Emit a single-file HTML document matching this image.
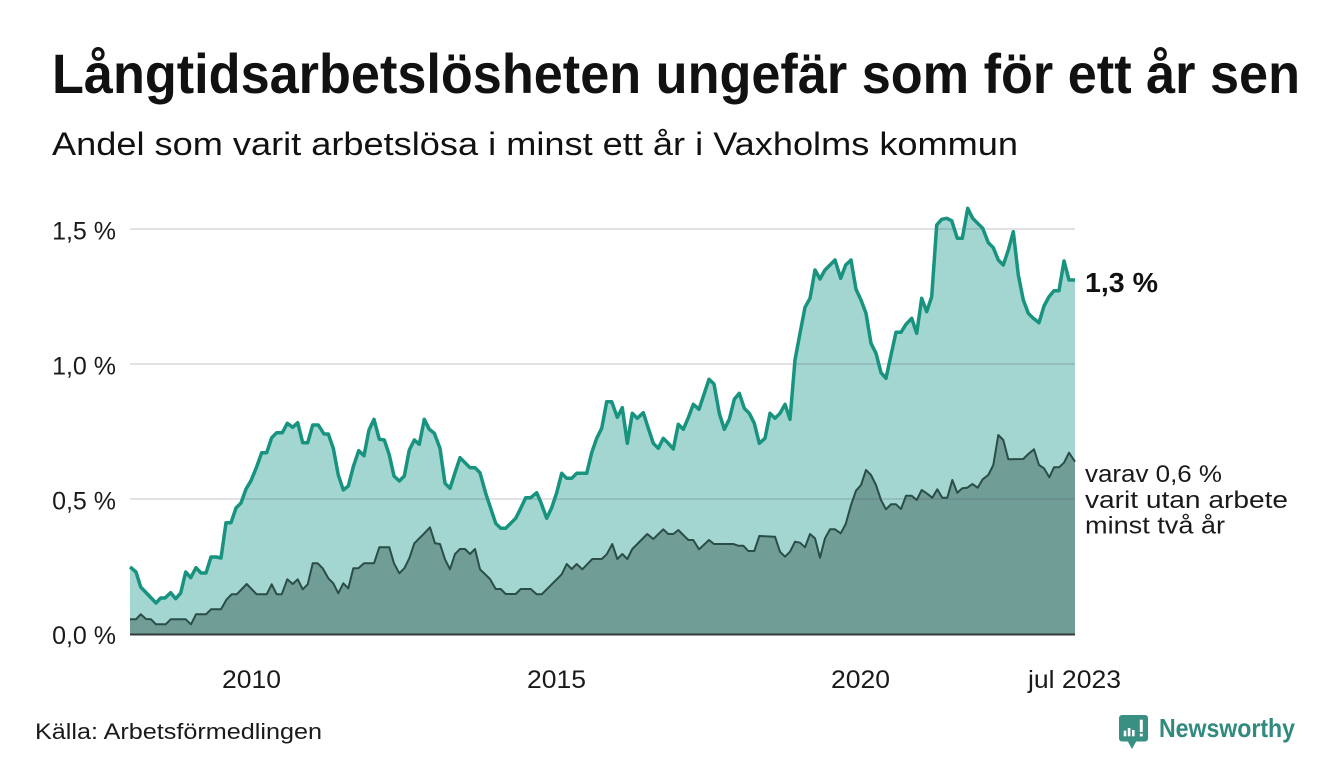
<!DOCTYPE html>
<html>
<head>
<meta charset="utf-8">
<style>
html,body{margin:0;padding:0;background:#ffffff;}
svg{display:block;}
text{font-family:"Liberation Sans",sans-serif;}
</style>
</head>
<body>
<svg width="1340" height="780" viewBox="0 0 1340 780" xmlns="http://www.w3.org/2000/svg">
<rect x="0" y="0" width="1340" height="780" fill="#ffffff"/>

<!-- Title & subtitle -->
<text x="52" y="93" font-size="56" font-weight="bold" fill="#111111" textLength="1248" lengthAdjust="spacingAndGlyphs">Långtidsarbetslösheten ungefär som för ett år sen</text>
<text x="52" y="155" font-size="32" fill="#111111" textLength="966" lengthAdjust="spacingAndGlyphs">Andel som varit arbetslösa i minst ett år i Vaxholms kommun</text>

<!-- Upper area -->
<polygon fill="#a3d6d0" points="130,634 130,567 131,567.7 136,572 140.7,587 156,603 160.7,598 165,598 170.7,592.7 175.7,598.7 180.7,593 185.7,572 190.7,577.7 196,567.7 201,573 206,573 211,557 216,557 221,558 226,522.7 231,522.7 236,508 241,503 246,489 251,480.7 256.7,466.7 261.7,452.7 266.7,452.7 271.7,437.7 276.7,432.7 282.3,432.7 287.3,423.3 292.7,427.3 297.7,422.7 302.7,442.7 307.7,442.7 312.7,425 318.3,425 324,434 328.3,434 333.3,448.3 338.3,475 343.3,490 348.3,486 353.3,466.7 358.7,450.7 364,455.7 369,430 374,419.3 379.3,439.3 384.3,440 389.3,455 394,476 399.3,481 404.3,476 409.3,450 414.3,440 419.3,444.3 424.3,419.3 429.3,429.3 434.3,433.3 440,448.3 445,483.3 450,488.3 455,472.7 460,457.7 465,462.7 470,467.7 475,467.7 480,472.7 485.7,493.3 490.7,508.3 495.7,523.3 500.7,528.3 505.7,528.3 510.7,523.3 515.7,518.3 520.7,508.3 525.7,497.7 530.7,497.7 536.7,492.7 541,502.7 546.7,518.3 551.7,507.7 556.7,492.7 561.7,473.3 566.7,478.3 571.7,478.3 576.7,473.3 586.7,473.3 591.7,452.7 596.7,438.3 601.7,428.3 606.7,401.7 611.7,401.7 617.3,417.3 622.3,407.7 627.3,443.3 632.3,413.3 637.3,418.3 643.3,412.7 648.3,428.3 653.3,443.3 658.3,448.3 663.3,438.3 668.3,443.3 673.3,449 678.3,424.3 683.3,429.3 688.3,417.7 693.3,404.3 699,409.3 704,394.3 709,379.3 714,384 719.3,413.3 724.3,429.3 729.3,419.3 734.3,399.3 739.3,393.3 744.3,408.3 749.3,413.3 754.3,423.3 759.3,443.3 765,438.3 770,413.3 775,418.3 780,413.3 785,404.3 790,419.3 795,360 800,333.3 805,307.3 810,298.3 815,270 820,279 825,270 830,265 835,260 840.7,278.3 845.7,265 851,260 856,289.3 861,300 866,313.3 871,343.3 876,353.3 881,372.7 886,378.3 891,355 896,332.3 901,332.3 906,324.3 911.7,318.3 916.7,333.3 921.7,298.3 926.7,311.7 931.7,296.7 936.7,225 941.7,219.3 946.7,218.3 951.7,220.7 957.3,238.3 962.3,238.3 967.7,208.3 972.7,218.3 977.7,223.3 982.7,228.3 988.3,242.7 993.3,247.7 998.3,260 1003.3,265 1008.3,250 1013.3,231.7 1018.3,275 1023.3,300 1028.3,313.3 1033.3,318.3 1039,322.7 1044,306 1049,296.7 1054,290.7 1059,290.7 1064,261 1069,280 1075,280 1075,634"/>

<!-- Lower area -->
<polygon fill="#709d96" points="130,634 130,619.3 136,619.3 140.7,614.3 146,619 151,619.3 156,624.3 165.7,624.3 170.7,619.3 185.7,619.3 191,624.3 196,614.3 206,614.3 211,609.3 221,609.3 226.7,599.3 231.7,594.3 236.7,594.3 246.7,584 256.7,594.3 266.7,594.3 271.7,584.3 276.7,594.3 281.7,594.3 287.3,579.3 292.7,584 297.7,579.3 302.7,589.3 307.7,584.3 312.7,563.3 317.7,563.3 322.7,568.3 328.3,578.3 333.3,583.3 338.3,593.3 343.3,583.3 348.3,588.3 353.3,568.3 358.3,568.3 364,563.3 374,563.3 379.3,547.3 389.3,547.3 394,563.3 399.3,573.3 404.3,568.3 409.3,558.3 414.3,543.3 424.3,533.3 430,527.3 435,543.3 440,544 445,559.3 450,569.3 455,554 460,549 465,549 470,554 475,549 480,569.3 490,579 495.7,589 500.7,589 505.7,594 515.7,594 520.7,589 530.7,589 536.7,594.3 541.7,594.3 551.7,584.3 561.7,574.3 566.7,564 571.7,569 576.7,564 582.3,569.3 592.3,559 601.7,559 606.7,554.3 612.3,544 617.3,559 622.3,554 627.3,559 632.3,549 642.3,539 647.3,534 653.3,539 663.3,529.3 668.3,534 673.3,534 678.3,530 688.3,540 693.3,540 699,549.3 709,540 714,544 733.3,544 738.3,545.7 743.3,545.7 748.3,551 754.3,551 759.3,536 775,536.7 780,551.7 785,556.7 790,551.7 795,541.7 800,542.7 805,547.3 810,534 815,538.3 820,557.7 825,538.3 830,529.3 835,529.3 840.7,533.3 845.7,524 851,505 856,490.7 861,485 866,470 871,475 876,485 881,500 886,509.3 891,504.3 896,504.3 901,509 906,495.7 911.7,495.7 916.7,500 921.7,490 926.7,493.3 932.3,497.7 937.3,489.3 942.3,497.7 947.3,497.7 952.3,480 957.3,492.7 962.3,488.3 967.3,487.7 972.3,484 977.7,487.7 982.7,479.3 988.3,475 993.3,465 998.3,435 1003.3,440 1008.3,459.3 1023.3,459 1028.3,454 1034,449.3 1039,465 1044,468.3 1049.3,477.3 1054,467.3 1059,467.3 1064,462.7 1069,452.7 1075,461.7 1075,634"/>

<!-- Gridlines -->
<g stroke="rgba(70,70,100,0.16)" stroke-width="2">
<line x1="130" y1="229" x2="1075" y2="229"/>
<line x1="130" y1="364" x2="1075" y2="364"/>
<line x1="130" y1="499" x2="1075" y2="499"/>
</g>

<!-- Lower line -->
<polyline fill="none" stroke="#2b4d48" stroke-width="2" stroke-linejoin="round" points="130,619.3 136,619.3 140.7,614.3 146,619 151,619.3 156,624.3 165.7,624.3 170.7,619.3 185.7,619.3 191,624.3 196,614.3 206,614.3 211,609.3 221,609.3 226.7,599.3 231.7,594.3 236.7,594.3 246.7,584 256.7,594.3 266.7,594.3 271.7,584.3 276.7,594.3 281.7,594.3 287.3,579.3 292.7,584 297.7,579.3 302.7,589.3 307.7,584.3 312.7,563.3 317.7,563.3 322.7,568.3 328.3,578.3 333.3,583.3 338.3,593.3 343.3,583.3 348.3,588.3 353.3,568.3 358.3,568.3 364,563.3 374,563.3 379.3,547.3 389.3,547.3 394,563.3 399.3,573.3 404.3,568.3 409.3,558.3 414.3,543.3 424.3,533.3 430,527.3 435,543.3 440,544 445,559.3 450,569.3 455,554 460,549 465,549 470,554 475,549 480,569.3 490,579 495.7,589 500.7,589 505.7,594 515.7,594 520.7,589 530.7,589 536.7,594.3 541.7,594.3 551.7,584.3 561.7,574.3 566.7,564 571.7,569 576.7,564 582.3,569.3 592.3,559 601.7,559 606.7,554.3 612.3,544 617.3,559 622.3,554 627.3,559 632.3,549 642.3,539 647.3,534 653.3,539 663.3,529.3 668.3,534 673.3,534 678.3,530 688.3,540 693.3,540 699,549.3 709,540 714,544 733.3,544 738.3,545.7 743.3,545.7 748.3,551 754.3,551 759.3,536 775,536.7 780,551.7 785,556.7 790,551.7 795,541.7 800,542.7 805,547.3 810,534 815,538.3 820,557.7 825,538.3 830,529.3 835,529.3 840.7,533.3 845.7,524 851,505 856,490.7 861,485 866,470 871,475 876,485 881,500 886,509.3 891,504.3 896,504.3 901,509 906,495.7 911.7,495.7 916.7,500 921.7,490 926.7,493.3 932.3,497.7 937.3,489.3 942.3,497.7 947.3,497.7 952.3,480 957.3,492.7 962.3,488.3 967.3,487.7 972.3,484 977.7,487.7 982.7,479.3 988.3,475 993.3,465 998.3,435 1003.3,440 1008.3,459.3 1023.3,459 1028.3,454 1034,449.3 1039,465 1044,468.3 1049.3,477.3 1054,467.3 1059,467.3 1064,462.7 1069,452.7 1075,461.7"/>

<!-- Upper line -->
<polyline fill="none" stroke="#17937f" stroke-width="3.5" stroke-linejoin="round" points="130,567 131,567.7 136,572 140.7,587 156,603 160.7,598 165,598 170.7,592.7 175.7,598.7 180.7,593 185.7,572 190.7,577.7 196,567.7 201,573 206,573 211,557 216,557 221,558 226,522.7 231,522.7 236,508 241,503 246,489 251,480.7 256.7,466.7 261.7,452.7 266.7,452.7 271.7,437.7 276.7,432.7 282.3,432.7 287.3,423.3 292.7,427.3 297.7,422.7 302.7,442.7 307.7,442.7 312.7,425 318.3,425 324,434 328.3,434 333.3,448.3 338.3,475 343.3,490 348.3,486 353.3,466.7 358.7,450.7 364,455.7 369,430 374,419.3 379.3,439.3 384.3,440 389.3,455 394,476 399.3,481 404.3,476 409.3,450 414.3,440 419.3,444.3 424.3,419.3 429.3,429.3 434.3,433.3 440,448.3 445,483.3 450,488.3 455,472.7 460,457.7 465,462.7 470,467.7 475,467.7 480,472.7 485.7,493.3 490.7,508.3 495.7,523.3 500.7,528.3 505.7,528.3 510.7,523.3 515.7,518.3 520.7,508.3 525.7,497.7 530.7,497.7 536.7,492.7 541,502.7 546.7,518.3 551.7,507.7 556.7,492.7 561.7,473.3 566.7,478.3 571.7,478.3 576.7,473.3 586.7,473.3 591.7,452.7 596.7,438.3 601.7,428.3 606.7,401.7 611.7,401.7 617.3,417.3 622.3,407.7 627.3,443.3 632.3,413.3 637.3,418.3 643.3,412.7 648.3,428.3 653.3,443.3 658.3,448.3 663.3,438.3 668.3,443.3 673.3,449 678.3,424.3 683.3,429.3 688.3,417.7 693.3,404.3 699,409.3 704,394.3 709,379.3 714,384 719.3,413.3 724.3,429.3 729.3,419.3 734.3,399.3 739.3,393.3 744.3,408.3 749.3,413.3 754.3,423.3 759.3,443.3 765,438.3 770,413.3 775,418.3 780,413.3 785,404.3 790,419.3 795,360 800,333.3 805,307.3 810,298.3 815,270 820,279 825,270 830,265 835,260 840.7,278.3 845.7,265 851,260 856,289.3 861,300 866,313.3 871,343.3 876,353.3 881,372.7 886,378.3 891,355 896,332.3 901,332.3 906,324.3 911.7,318.3 916.7,333.3 921.7,298.3 926.7,311.7 931.7,296.7 936.7,225 941.7,219.3 946.7,218.3 951.7,220.7 957.3,238.3 962.3,238.3 967.7,208.3 972.7,218.3 977.7,223.3 982.7,228.3 988.3,242.7 993.3,247.7 998.3,260 1003.3,265 1008.3,250 1013.3,231.7 1018.3,275 1023.3,300 1028.3,313.3 1033.3,318.3 1039,322.7 1044,306 1049,296.7 1054,290.7 1059,290.7 1064,261 1069,280 1075,280"/>

<!-- Baseline -->
<line x1="130" y1="634.5" x2="1075" y2="634.5" stroke="#333a38" stroke-width="2"/>

<!-- Y tick labels -->
<g font-size="25" fill="#1a1a1a" text-anchor="end">
<text x="116" y="239.5">1,5 %</text>
<text x="116" y="374.5">1,0 %</text>
<text x="116" y="509.5">0,5 %</text>
<text x="116" y="644">0,0 %</text>
</g>

<!-- X tick labels -->
<g font-size="25" fill="#1a1a1a">
<text x="222" y="688" textLength="59" lengthAdjust="spacingAndGlyphs">2010</text>
<text x="527" y="688" textLength="59" lengthAdjust="spacingAndGlyphs">2015</text>
<text x="831" y="688" textLength="59" lengthAdjust="spacingAndGlyphs">2020</text>
<text x="1028" y="688" textLength="93" lengthAdjust="spacingAndGlyphs">jul 2023</text>
</g>

<!-- Right annotations -->
<text x="1085" y="292" font-size="28" font-weight="bold" fill="#111111" textLength="73" lengthAdjust="spacingAndGlyphs">1,3 %</text>
<g font-size="24" fill="#1a1a1a">
<text x="1085" y="482" textLength="137" lengthAdjust="spacingAndGlyphs">varav 0,6 %</text>
<text x="1085" y="508" textLength="203" lengthAdjust="spacingAndGlyphs">varit utan arbete</text>
<text x="1085" y="533.5" textLength="140" lengthAdjust="spacingAndGlyphs">minst två år</text>
</g>

<!-- Source -->
<text x="35" y="739" font-size="22" fill="#1a1a1a" textLength="287" lengthAdjust="spacingAndGlyphs">Källa: Arbetsförmedlingen</text>

<!-- Logo -->
<g>
<rect x="1119" y="715" width="29" height="26.5" rx="3" fill="#3a8f83"/>
<polygon points="1127,740 1137,740 1132,749" fill="#3a8f83"/>
<rect x="1123.7" y="730.7" width="2.6" height="5.6" fill="#ffffff"/>
<rect x="1127.8" y="728" width="2.6" height="8.3" fill="#ffffff"/>
<rect x="1132" y="730" width="2.6" height="6.3" fill="#ffffff"/>
<rect x="1139.8" y="719.7" width="3" height="12.3" fill="#ffffff"/>
<rect x="1139.8" y="733.6" width="3" height="2.8" fill="#ffffff"/>
<text x="1159" y="737" font-size="26" font-weight="bold" fill="#318a7e" textLength="136" lengthAdjust="spacingAndGlyphs">Newsworthy</text>
</g>
</svg>
</body>
</html>
